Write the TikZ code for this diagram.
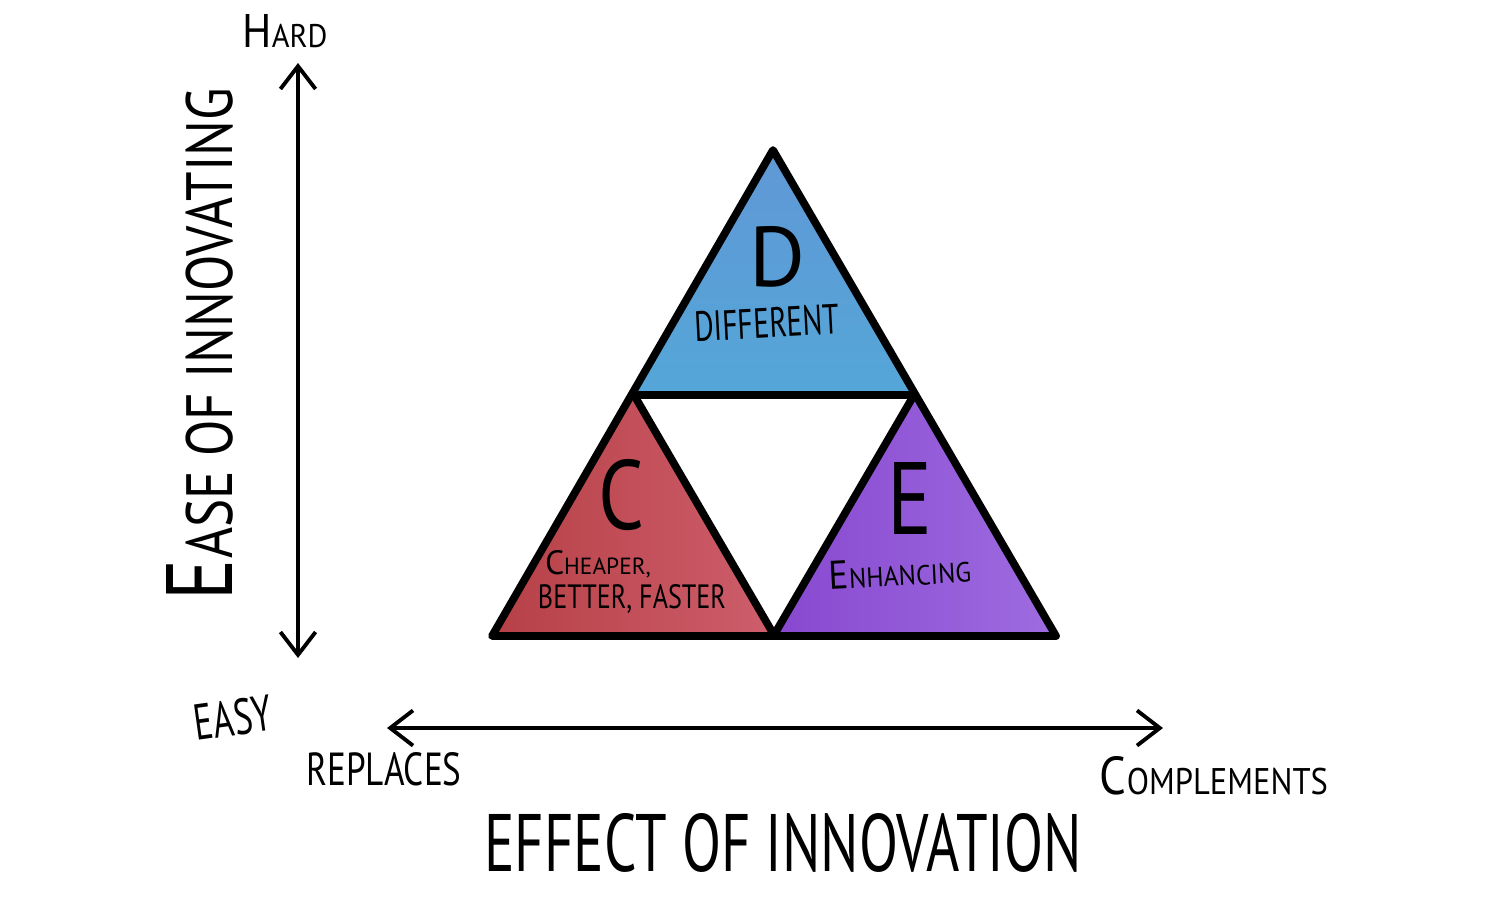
\documentclass[tikz,border=0pt]{standalone}
\usepackage{fontspec}
\setmainfont{PT Sans}
\usetikzlibrary{arrows.meta}
\newlength\pxu \setlength\pxu{0.02cm}
\newcommand\fitbox[3]{\resizebox{#1\pxu}{#2\pxu}{#3}}
\definecolor{bluetop}{RGB}{96,152,214}
\definecolor{bluebot}{RGB}{84,166,216}
\definecolor{redtop}{RGB}{182,64,70}
\definecolor{redbot}{RGB}{206,94,108}
\definecolor{purtop}{RGB}{136,72,208}
\definecolor{purbot}{RGB}{158,108,224}
\begin{document}
\begin{tikzpicture}[x=0.02cm,y=-0.02cm,
  outline/.style={line width=4.4pt,line join=round,line cap=round},
  axis/.style={line width=2.2pt,line cap=round,{Straight Barb[length=13pt,width=20pt]}-{Straight Barb[length=13pt,width=20pt]}},
  lbl/.style={inner sep=0pt,text=black}]
\useasboundingbox (0,0) rectangle (1511,914);
% triangle vertices
\coordinate (apex) at (773,150);
\coordinate (bl) at (492,636);
\coordinate (br) at (1056,636);
\coordinate (ml) at (634,395);
\coordinate (mr) at (914,395);
\coordinate (mb) at (774,635);
% fills
\shade[top color=bluetop,bottom color=bluebot] (apex)--(ml)--(mr)--cycle;
\shade[left color=redtop,right color=redbot] (ml)--(bl)--(mb)--cycle;
\shade[left color=purtop,right color=purbot] (mr)--(mb)--(br)--cycle;
% outlines
\draw[outline] (apex)--(bl)--(br)--cycle;
\draw[outline] (ml)--(mr)--(mb)--cycle;
% axes
\coordinate (vtop) at (298,63);
\coordinate (vbot) at (298,658);
\coordinate (hl) at (387,728);
\coordinate (hr) at (1163,728);
\draw[axis] (vbot)--(vtop);
\draw[axis] (hl)--(hr);
% axis labels
\node[lbl] (hard) at (285,31) {\fitbox{85}{33}{\Large H\normalsize ARD}};
\node[lbl,rotate=8] (easy) at (233,718) {\fitbox{78}{36}{EASY}};
\node[lbl] (repl) at (384,769) {\fitbox{155}{33}{REPLACES}};
\node[lbl] (comp) at (1214,776) {\fitbox{228}{38}{\Large C\normalsize OMPLEMENTS}};
\node[lbl] (effect) at (783,843) {\fitbox{597}{58}{EFFECT OF INNOVATION}};
\node[lbl,rotate=90] (ease) at (200,344) {\fitbox{512}{66}{\Large E\normalsize ASE OF INNOVATING}};
% triangle labels
\node[lbl] (dl) at (777,257) {\fitbox{56}{60}{D}};
\node[lbl,rotate=3] (diff) at (767,323) {\fitbox{145}{30}{DIFFERENT}};
\node[lbl] (cl) at (621,495) {\fitbox{46}{70}{C}};
\node[lbl] (cheap) at (598,564) {\fitbox{106}{24}{\Large C\normalsize HEAPER,}};
\node[lbl] (better) at (632,599) {\fitbox{188}{24}{BETTER, FASTER}};
\node[lbl] (el) at (910,498) {\fitbox{45}{72}{E}};
\node[lbl,rotate=3] (enh) at (900,572) {\fitbox{142}{28}{\Large E\normalsize NHANCING}};
\end{tikzpicture}
\end{document}
